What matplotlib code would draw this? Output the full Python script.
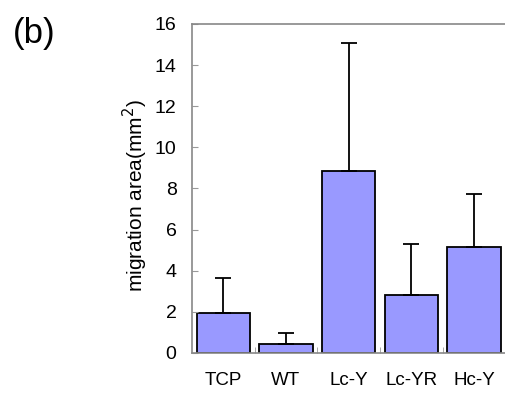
import matplotlib.pyplot as plt

# Data
groups = ["TCP", "WT", "Lc-Y", "Lc-YR", "Hc-Y"]
means = [1.93, 0.42, 8.87, 2.81, 5.17]
upper_err = [1.73, 0.54, 6.19, 2.51, 2.55]

plt.rcParams['font.family'] = ['Liberation Sans', 'DejaVu Sans']

fig = plt.figure(figsize=(5.05, 3.96), dpi=100)
ax = fig.add_axes([0.380, 0.1086, 0.621, 0.8308])

x = list(range(len(groups)))
ax.bar(x, means, width=0.85, color='#9999ff', edgecolor='black', linewidth=1.3,
       yerr=[[0] * len(means), upper_err], capsize=6,
       error_kw={'elinewidth': 1.3, 'capthick': 1.3, 'ecolor': 'black'})

ax.set_xlim(-0.5, 4.5)
ax.set_ylim(0, 16)
ax.set_yticks(range(0, 17, 2))
ax.set_xticks(x)
ax.set_xticklabels(groups, fontsize=13.5)
ax.tick_params(axis='x', length=0, pad=14)
ax.tick_params(axis='y', direction='in', length=4, color='#999999', labelsize=14, pad=11)
ax.set_xticks([0.5, 1.5, 2.5, 3.5], minor=True)
ax.tick_params(axis='x', which='minor', direction='in', length=4, color='#999999')

for s in ax.spines.values():
    s.set_color('#888888')
    s.set_linewidth(1.2)

ax.set_ylabel("migration area(mm$^2$)", fontsize=15)
ax.yaxis.set_label_coords(-0.135, 0.48)
fig.text(0.025, 0.958, "(b)", fontsize=25, va='top')

fig.savefig("out.png", dpi=100)
